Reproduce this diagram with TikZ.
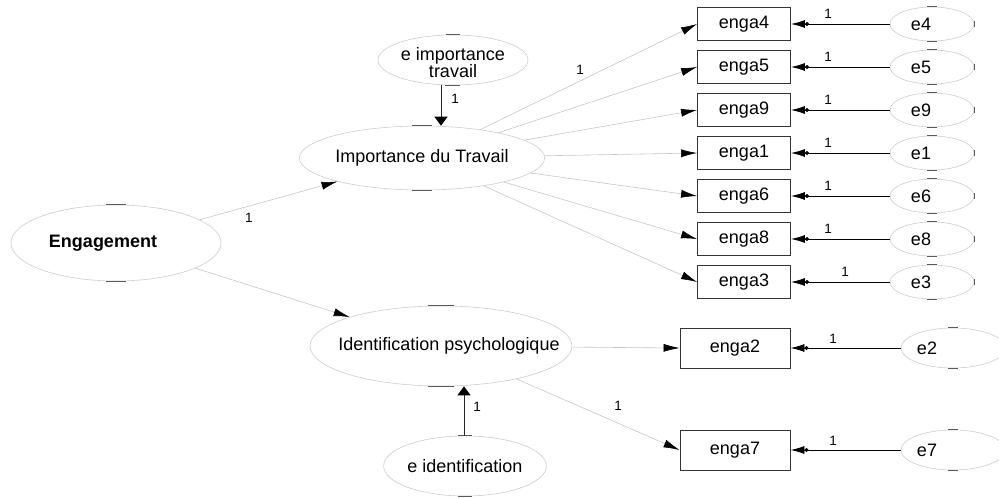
\documentclass[tikz,border=0pt]{standalone}
\usepackage{fontspec}
\setmainfont{Liberation Sans}
\usetikzlibrary{arrows.meta,shapes.geometric}
\begin{document}
\begin{tikzpicture}[x=1pt,y=-1pt,
  txt/.style={font=\fontsize{18}{20}\selectfont},
  lat/.style={ellipse, draw=gray!40, line width=0.6pt, inner sep=0pt, txt},
  obs/.style={rectangle, draw=black!80, line width=0.9pt, minimum width=93pt, minimum height=33pt, inner sep=0pt, txt},
  err/.style={lat, minimum width=84pt, minimum height=34pt},
  errb/.style={lat, minimum width=104pt, minimum height=40pt},
  gpath/.style={draw=gray!45, line width=0.6pt, -{Latex[length=16pt,width=8pt,color=black]}},
  epath/.style={draw=black, line width=0.9pt, -{Circle[length=4pt,color=black]Latex[length=14pt,width=8pt,color=black]}},
  vpath/.style={draw=black!85, line width=0.9pt, -{Triangle[length=9pt,width=13pt,color=black]}},
  tick/.style={draw=black!65, line width=1.2pt},
  one/.style={font=\fontsize{13.5}{15}\selectfont, inner sep=0pt}
]
\useasboundingbox (0,0) rectangle (999,498);

% latent variables
\node[lat, minimum width=210pt, minimum height=76pt,
  label={[font=\bfseries\fontsize{18}{20}\selectfont, xshift=-13pt]center:Engagement}] (eng) at (116,243) {};
\node[lat, minimum width=226pt, minimum height=64pt] (imp) at (422,158) {Importance du Travail};
\node[lat, minimum width=150pt, minimum height=50pt, align=center, font=\fontsize{18}{17}\selectfont,
  label={[font=\fontsize{18}{17}\selectfont, align=center, yshift=-3pt]center:e importance\\travail}] (eimp) at (453,60) {};
\node[lat, minimum width=262pt, minimum height=80pt,
  label={[txt, xshift=8pt]center:Identification psychologique}] (ident) at (441,346) {};
\node[lat, minimum width=156pt, minimum height=60pt] (eid) at (465,466) {e identification};

% observed variables
\foreach \n/\y in {4/24,5/67,9/110,1/153,6/196,8/239,3/282}{
  \node[obs] (enga\n) at (744,\y) {enga\n};
  \node[err, label={[txt, xshift=-11pt]center:e\n}] (e\n) at (932,\y) {};
  \draw[tick] ([xshift=-5pt]e\n.north) -- ([xshift=5pt]e\n.north);
  \draw[tick] ([xshift=-5pt]e\n.south) -- ([xshift=5pt]e\n.south);
  \draw[tick] ([yshift=-3pt]e\n.east) -- ([yshift=3pt]e\n.east);
  \draw[epath] (e\n.west) -- (enga\n.east);
  \draw[gpath] (imp) -- (enga\n.west);
}
\foreach \n/\y in {2/348,7/450}{
  \node[obs, minimum width=110pt, minimum height=40pt] (enga\n) at (735,\y) {enga\n};
  \node[errb, label={[txt, xshift=-26pt]center:e\n}] (e\n) at (953,\y) {};
  \draw[tick] ([xshift=-5pt]e\n.north) -- ([xshift=5pt]e\n.north);
  \draw[tick] ([xshift=-5pt]e\n.south) -- ([xshift=5pt]e\n.south);
  \draw[epath] (e\n.west) -- (enga\n.east);
  \draw[gpath] (ident) -- (enga\n.west);
}

% variance ticks on latents
\draw[tick] ([xshift=-10pt]eng.north) -- ([xshift=10pt]eng.north);
\draw[tick] ([xshift=-10pt]eng.south) -- ([xshift=10pt]eng.south);
\draw[tick] ([xshift=-10pt]imp.north) -- ([xshift=10pt]imp.north);
\draw[tick] ([xshift=-10pt]imp.south) -- ([xshift=10pt]imp.south);
\draw[tick] ([xshift=-13pt]ident.north) -- ([xshift=13pt]ident.north);
\draw[tick] ([xshift=-13pt]ident.south) -- ([xshift=13pt]ident.south);
\draw[tick] ([xshift=-7pt]eimp.north) -- ([xshift=7pt]eimp.north);
\draw[tick] ([xshift=-8pt]eimp.south) -- ([xshift=7pt]eimp.south);
\draw[tick] ([xshift=-7pt]eid.north) -- ([xshift=7pt]eid.north);
\draw[tick] ([xshift=-7pt]eid.south) -- ([xshift=7pt]eid.south);

% structural paths
\draw[gpath] (eng) -- (imp);
\draw[gpath] (eng) -- (ident);
\draw[vpath] ([xshift=-12pt]eimp.south) -- ([xshift=19pt]imp.north);
\draw[vpath] ([xshift=-1pt]eid.north) -- ([xshift=23pt]ident.south);

% labels
\foreach \y in {24,67,110,153,196,239}{ \node[one] (l\y) at (828,\y-10) {1}; }
\node[one] (l282) at (845,272) {1};
\node[one] (l348) at (833,339) {1};
\node[one] (l450) at (833,441) {1};
\node[one] (limp) at (580,70) {1};
\node[one] (leng) at (249,218) {1};
\node[one] (l7) at (618,406) {1};
\node[one] (leimp) at (455,99) {1};
\node[one] (leid) at (477,407) {1};
\end{tikzpicture}
\end{document}
